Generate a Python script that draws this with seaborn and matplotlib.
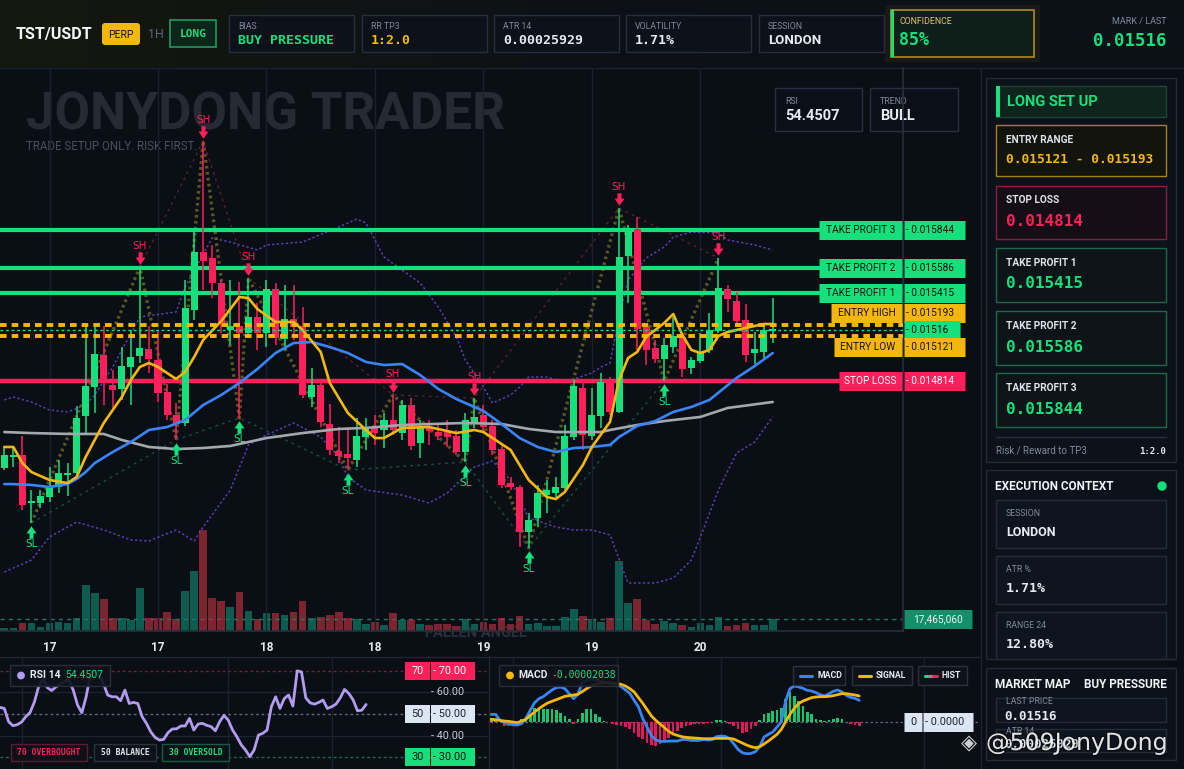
import numpy as np
import matplotlib
matplotlib.use("Agg")
import matplotlib.pyplot as plt
import matplotlib.patheffects as pe
from matplotlib.patches import Rectangle, Circle, FancyBboxPatch
from matplotlib.colors import LinearSegmentedColormap
from matplotlib.transforms import blended_transform_factory, offset_copy
import seaborn as sns

# ---------------- data (prices in millionths of USDT) ----------------
PRICE_UNIT = 1e-6
OPEN_U = [14221, 14296, 14309, 13982, 13982, 14023, 14091, 14173, 14186, 14575,
          14773, 14991, 14787, 14760, 14910, 14985, 15032, 14957, 14739, 14582,
          14528, 15298, 15694, 15653, 15483, 15162, 15189, 15142, 15251, 15142,
          15442, 15101, 15237, 15189, 14705, 14787, 14521, 14337, 14316, 14275,
          14432, 14500, 14480, 14548, 14459, 14650, 14391, 14500, 14466, 14466,
          14439, 14330, 14535, 14582, 14507, 14350, 14118, 14091, 13784, 13880,
          14036, 14050, 14084, 14432, 14766, 14439, 14575, 14807, 14603, 15667,
          15851, 15183, 15039, 14964, 15046, 15114, 14903, 14951, 15026, 15155,
          15442, 15360, 15230, 15005, 15012, 15155]
HIGH_U = [14364, 14357, 14439, 14071, 14071, 14227, 14275, 14254, 14644, 15210,
          15183, 15189, 14889, 15046, 15162, 15592, 15189, 15162, 14794, 14664,
          15503, 15830, 16451, 15742, 15503, 15503, 15490, 15517, 15346, 15503,
          15483, 15469, 15469, 15319, 14903, 14801, 14657, 14500, 14500, 14562,
          14562, 14582, 14596, 14719, 14685, 14698, 14548, 14548, 14514, 14548,
          14480, 14596, 14698, 14650, 14548, 14378, 14159, 14104, 13914, 14104,
          14139, 14159, 14514, 14821, 14807, 14766, 14869, 14841, 15994, 15878,
          15933, 15183, 15094, 15107, 15251, 15142, 14978, 15142, 15278, 15653,
          15469, 15421, 15339, 15148, 15210, 15380]
LOW_U = [14207, 14227, 13934, 13846, 13948, 13989, 14050, 14030, 14152, 14459,
         14596, 14650, 14630, 14685, 14650, 14937, 14869, 14671, 14548, 14412,
         14507, 15230, 15435, 15380, 15142, 15060, 14562, 15121, 15026, 15046,
         15060, 15026, 15094, 14698, 14637, 14500, 14309, 14254, 14207, 14227,
         14344, 14378, 14357, 14446, 14412, 14344, 14289, 14378, 14412, 14364,
         14309, 14261, 14494, 14466, 14309, 14084, 14071, 13682, 13675, 13818,
         13914, 14023, 14071, 14412, 14344, 14412, 14494, 14582, 14596, 15346,
         15026, 14923, 14937, 14814, 15005, 14841, 14862, 14937, 15005, 15142,
         15285, 15196, 14944, 14930, 14971, 15073]
CLOSE_U = [14309, 14302, 13968, 13996, 14030, 14091, 14186, 14186, 14562, 14780,
           14998, 14801, 14753, 14916, 14978, 15039, 14964, 14732, 14582, 14521,
           15312, 15694, 15633, 15483, 15210, 15189, 15142, 15251, 15142, 15442,
           15107, 15237, 15183, 14719, 14787, 14535, 14344, 14302, 14289, 14439,
           14500, 14459, 14548, 14480, 14650, 14371, 14500, 14473, 14439, 14432,
           14330, 14548, 14569, 14500, 14344, 14104, 14091, 13784, 13866, 14050,
           14071, 14091, 14439, 14780, 14446, 14582, 14807, 14603, 15660, 15844,
           15169, 15026, 14964, 15060, 15121, 14896, 14957, 15012, 15162, 15448,
           15374, 15223, 14991, 15032, 15162, 15160]
VOLUME_M = [4.8, 4.8, 11.6, 11.6, 5.8, 11.6, 13.5, 11.6, 19.4, 66.9,
            55.3, 46.6, 19.4, 19.4, 16.4, 62.6, 18.9, 18.9, 27.7, 17.5,
            58.2, 87.3, 147.0, 48.0, 43.7, 34.9, 56.8, 29.1, 17.5, 26.2,
            25.5, 23.3, 27.7, 43.7, 18.9, 20.4, 23.3, 27.7, 18.9, 17.5,
            10.2, 13.1, 8.7, 26.2, 15.6, 16.0, 9.8, 8.3, 9.8, 9.8,
            6.8, 17.0, 9.8, 13.5, 9.8, 18.5, 9.8, 21.8, 10.6, 11.6,
            6.8, 6.8, 20.4, 32.0, 21.8, 17.5, 13.5, 18.9, 101.9, 40.8,
            46.6, 16.0, 10.2, 14.6, 11.6, 8.7, 5.8, 11.6, 8.7, 20.4,
            7.3, 8.7, 11.6, 8.7, 8.7, 17.46506]

EMA_FAST_X = [0, 1, 2, 3, 5, 7, 8, 9, 11, 13, 14, 15, 16, 17, 19, 20, 21, 22, 24, 25,
              26, 27, 28, 30, 32, 33, 35, 36, 38, 40, 41, 42, 44, 47, 50, 52, 53, 56, 58, 60,
              61, 62, 64, 65, 67, 68, 69, 70, 71, 73, 74, 75, 76, 77, 78, 79, 80, 82, 84, 85]
EMA_FAST_U = [14364, 14364, 14254, 14193, 14139, 14118, 14159, 14296, 14528, 14705,
              14821, 14910, 14937, 14910, 14828, 14876, 14978, 15094, 15223, 15305,
              15387, 15380, 15305, 15217, 15217, 15162, 15012, 14801, 14596, 14480,
              14425, 14425, 14494, 14500, 14459, 14480, 14466, 14344, 14139, 14023,
              14009, 14057, 14241, 14364, 14535, 14821, 14971, 15012, 15114, 15210,
              15271, 15128, 15026, 15005, 15026, 15121, 15148, 15176, 15203, 15203]
EMA_SLOW_X = [0, 1, 3, 5, 7, 8, 9, 10, 12, 14, 16, 18, 20, 22, 24, 26, 28, 30, 32, 34,
              36, 38, 40, 42, 44, 46, 48, 50, 53, 55, 57, 59, 61, 63, 65, 67, 68, 70, 72, 74,
              76, 78, 81, 83, 85]
EMA_SLOW_U = [14111, 14111, 14105, 14091, 14111, 14146, 14193, 14254, 14330, 14398,
              14480, 14500, 14548, 14650, 14719, 14801, 14896, 15005, 15073, 15080,
              15046, 15005, 14944, 14923, 14930, 14855, 14760, 14691, 14610, 14521,
              14425, 14364, 14330, 14357, 14364, 14378, 14432, 14507, 14541, 14603,
              14637, 14685, 14835, 14916, 15005]
SMA_X = [0, 3, 7, 11, 13, 16, 19, 22, 25, 29, 33, 37, 40, 44, 51, 55, 58, 61, 66, 67,
         70, 73, 77, 80, 85]
SMA_U = [14466, 14459, 14453, 14453, 14412, 14364, 14350, 14357, 14371, 14425,
         14459, 14487, 14494, 14514, 14528, 14521, 14487, 14466, 14466, 14480,
         14514, 14541, 14569, 14630, 14671]
BB_UP_X = [0, 1, 3, 5, 7, 9, 10, 12, 13, 15, 19, 20, 23, 25, 28, 29, 33, 37, 39, 40,
           42, 44, 46, 48, 50, 51, 53, 54, 56, 57, 58, 60, 62, 65, 66, 67, 68, 69, 71, 73,
           74, 76, 79, 80, 83, 85]
BB_UP_U = [14685, 14705, 14671, 14616, 14603, 14650, 14719, 14910, 15026, 15251,
           15285, 15455, 15790, 15762, 15708, 15742, 15762, 15865, 15919, 15892,
           15660, 15571, 15483, 15319, 15114, 14957, 14773, 14664, 14719, 14773,
           14841, 14841, 14807, 14869, 14910, 14937, 15251, 15503, 15653, 15728,
           15796, 15830, 15824, 15776, 15742, 15708]
BB_LOW_X = [0, 3, 5, 8, 11, 14, 16, 19, 21, 22, 25, 27, 29, 32, 35, 37, 38, 40, 44, 47,
            49, 52, 54, 56, 58, 61, 63, 65, 67, 69, 72, 74, 76, 77, 79, 81, 83, 85]
BB_LOW_U = [13511, 13593, 13750, 13852, 13798, 13730, 13723, 13798, 13723, 13818,
            14071, 14378, 14446, 14528, 14432, 14296, 14159, 14071, 14036, 13982,
            14050, 14227, 14268, 14139, 13880, 13818, 13798, 13798, 13764, 13436,
            13436, 13470, 13593, 13750, 14071, 14323, 14398, 14569]

SWING_HIGH_IDX = [15, 22, 27, 43, 52, 68, 79]
SWING_LOW_IDX = [3, 19, 26, 38, 51, 58, 73]

RSI = [53.1, 52.6, 46.5, 44.6, 45.1, 46.3, 48.8, 50.8, 55.7, 62.9,
       66.3, 62.2, 60.9, 62.6, 63.8, 65.1, 65.8, 61.1, 54.2, 50.6,
       58.0, 68.5, 70.3, 67.7, 64.2, 58.8, 58.0, 58.0, 56.2, 61.1,
       54.9, 55.4, 54.9, 48.8, 45.7, 41.8, 39.2, 38.0, 38.3, 41.4,
       43.1, 43.2, 44.5, 44.5, 48.0, 42.6, 45.4, 45.7, 44.8, 44.2,
       42.3, 46.5, 49.4, 47.2, 42.6, 39.5, 35.8, 33.4, 30.3, 33.4,
       40.3, 41.1, 42.6, 53.4, 58.0, 52.6, 57.2, 58.8, 53.7, 70.0,
       69.5, 57.5, 55.2, 54.6, 55.4, 56.5, 52.6, 53.4, 54.6, 57.5,
       61.4, 59.5, 56.5, 51.5, 51.8, 54.4507]
MACD_E6 = [36.1, 36.1, 7.9, -3.1, -7.9, -12.6, -14.1, -7.9, 17.3, 55.0,
           91.1, 109.9, 119.3, 135.0, 150.7, 161.7, 164.9, 157.0, 133.5, 109.9,
           130.3, 185.3, 197.8, 201.0, 199.4, 194.7, 186.8, 183.7, 182.1, 177.4,
           166.4, 150.7, 135.0, 102.1, 70.7, 15.7, -23.6, -65.9, -83.2, -91.1,
           -91.1, -89.5, -89.5, -89.5, -83.2, -81.6, -86.4, -86.4, -86.4, -81.6,
           -84.8, -83.2, -69.1, -65.9, -67.5, -76.9, -102.1, -128.7, -144.4, -149.2,
           -147.6, -139.7, -116.2, -70.7, -58.1, -47.1, -23.6, 1.6, 98.9, 157.0,
           169.6, 164.9, 158.6, 149.2, 146.0, 138.2, 128.7, 122.5, 133.5, 144.4,
           150.7, 141.3, 125.6, 116.2, 111.5, 102.1]
SIGNAL_E6 = [12.6, 11.0, 7.9, 4.7, 3.1, 0.0, -3.1, 4.7, 12.6, 31.4,
             47.1, 62.8, 76.9, 89.5, 97.3, 105.2, 113.0, 120.9, 124.0, 127.2,
             130.3, 142.9, 157.0, 169.6, 177.4, 182.1, 185.3, 185.3, 183.7, 180.6,
             177.4, 169.6, 157.0, 141.3, 114.6, 87.9, 58.1, 28.3, 7.9, -9.4,
             -26.7, -44.0, -56.5, -62.8, -69.1, -72.2, -73.8, -75.4, -76.9, -78.5,
             -78.5, -78.5, -76.9, -76.9, -76.9, -76.9, -80.1, -89.5, -98.9, -108.3,
             -116.2, -120.9, -116.2, -103.6, -89.5, -73.8, -58.1, -34.5, 1.6, 36.1,
             64.4, 86.4, 98.9, 106.8, 114.6, 117.8, 119.3, 119.3, 120.9, 124.0,
             128.7, 133.5, 133.5, 130.3, 127.2, 122.5]
HIST_E6 = [20.4, 12.6, 3.1, -18.8, -18.8, -18.8, -11.0, 12.6, 28.3, 39.3,
           64.4, 64.4, 59.7, 59.7, 59.7, 55.0, 44.0, 28.3, 12.6, -11.0,
           12.6, 44.0, 59.7, 59.7, 39.3, 23.6, 4.7, 1.6, -11.0, -14.1,
           -18.8, -23.6, -34.5, -50.2, -70.7, -81.6, -97.3, -108.3, -113.0, -105.2,
           -92.6, -73.8, -58.1, -42.4, -29.8, -18.8, -14.1, -11.0, -7.9, -7.9,
           -4.7, 1.6, 7.9, 11.0, 4.7, -7.9, -18.8, -34.5, -50.2, -45.5,
           -34.5, -18.8, 7.9, 39.3, 44.0, 51.8, 55.0, 67.5, 106.8, 142.9,
           122.5, 98.9, 75.4, 48.7, 36.1, 12.6, 7.9, 4.7, 7.9, 12.6,
           20.4, 15.7, 0.0, -7.9, -14.1, -20.38]

TIME_TICKS = [5, 17, 29, 41, 53, 65, 77]
TIME_LABELS = ["17", "17", "18", "18", "19", "19", "20"]

TP3, TP2, TP1 = 0.015844, 0.015586, 0.015415
ENTRY_HIGH, ENTRY_LOW = 0.015193, 0.015121
STOP = 0.014814
LAST = 0.01516
ATR14 = 0.00025929
TOP_CARDS = [("BIAS", "BUY PRESSURE"), ("RR TP3", "1:2.0"), ("ATR 14", "0.00025929"),
             ("VOLATILITY", "1.71%"), ("SESSION", "LONDON")]
CONTEXT_CARDS = [("SESSION", "LONDON"), ("ATR %", "1.71%"), ("RANGE 24", "12.80%")]

# ---------------- derived arrays ----------------
O = np.array(OPEN_U) * PRICE_UNIT
Hh = np.array(HIGH_U) * PRICE_UNIT
L = np.array(LOW_U) * PRICE_UNIT
C = np.array(CLOSE_U) * PRICE_UNIT
VOL = np.array(VOLUME_M) * 1e6
MACD = np.array(MACD_E6) * 1e-6
SIGNAL = np.array(SIGNAL_E6) * 1e-6
HIST = np.array(HIST_E6) * 1e-6
idx = np.arange(len(C))

# ---------------- style ----------------
sns.set_theme(style="dark")
SANS = ["Roboto", "DejaVu Sans"]
MONO = ["DejaVu Sans Mono", "DejaVu Sans"]
plt.rcParams["font.family"] = SANS
plt.rcParams["axes.unicode_minus"] = False

BG = "#0a0e15"
PANEL = "#0d121a"
BORDER = "#232c39"
GRID = "#1a212c"
GREEN = "#16e07c"
RED = "#ff1f5a"
YEL = "#f4b70d"
BLUEC = "#3a85f5"
TXT = "#e6ebf2"
MUTED = "#7f8a9c"
DARK = "#0c1510"

W, H = 1184, 769
fig = plt.figure(figsize=(W / 100, H / 100), dpi=100, facecolor=BG)


def rect(x0, y0, x1, y1):
    return [x0 / W, 1 - y1 / H, (x1 - x0) / W, (y1 - y0) / H]


ui = fig.add_axes([0, 0, 1, 1], zorder=0)
ov = fig.add_axes([0, 0, 1, 1], zorder=6)


def box(a, x0, y0, x1, y1, fc, ec="none", lw=1.0, z=1, alpha=1.0):
    a.add_patch(Rectangle((x0, y0), x1 - x0, y1 - y0, facecolor=fc, edgecolor=ec,
                          lw=lw, zorder=z, alpha=alpha))


def txt(a, x, y, s, size, color, weight="normal", ha="left", family=SANS, z=5, alpha=1.0):
    return a.text(x, y, s, fontsize=size, color=color, fontweight=weight, ha=ha,
                  va="center", family=family, zorder=z, alpha=alpha)


# ---------------- background & top bar ----------------
box(ui, 0, 0, W, H, BG, z=0)
box(ui, 0, 0, W, 67, "#0c1017", z=0.2)
cm = LinearSegmentedColormap.from_list("tb", ["#0c1017", "#14180f"])
ui.imshow(np.linspace(1, 0, 256).reshape(1, -1), extent=(0, 700, 67, 0), cmap=cm,
          aspect="auto", zorder=0.3, interpolation="bilinear")
ui.plot([0, W], [67.5, 67.5], color="#1d2531", lw=1, zorder=1)

txt(ui, 16, 34, "TST/USDT", 11.5, "#f4f6fa", "bold")
ui.add_patch(FancyBboxPatch((102, 23), 38, 22, boxstyle="round,pad=0,rounding_size=3",
                            fc="#f0b90b", ec="none", zorder=2))
txt(ui, 121, 34.5, "PERP", 7.5, "#17140a", ha="center")
txt(ui, 148, 34, "1H", 9, "#5d6778")
box(ui, 170, 20, 216, 47, "#0c2419", "#1c9c5e", lw=1.2, z=2)
txt(ui, 193, 34, "LONG", 8, GREEN, "bold", ha="center", family=MONO)

card_x = [(229, 354), (362, 487), (494, 619), (626, 751), (759, 884)]
card_col = [GREEN, YEL, TXT, TXT, TXT]
for (x0, x1), (lab, val), col in zip(card_x, TOP_CARDS, card_col):
    box(ui, x0, 15, x1, 52, "#0c111a", "#262f3d", z=2)
    txt(ui, x0 + 9, 26.5, lab, 6.3, MUTED)
    if val == "LONDON":
        txt(ui, x0 + 9, 40.5, val, 9.5, col, "bold")
    else:
        txt(ui, x0 + 9, 40.5, val, 9.5, col, "bold", family=MONO)

box(ui, 885, 5, 1040, 62, "#c79a1a", z=1.5, alpha=0.07)
box(ui, 891, 10, 1034, 57, "#0d1f18", "#b08a1c", lw=1.2, z=2)
box(ui, 891, 10, 894, 57, GREEN, z=3)
txt(ui, 900, 22, "CONFIDENCE", 6.3, "#e9c46a")
txt(ui, 899, 40, "85%", 12, GREEN, "bold", family=MONO)
txt(ui, 1167, 22, "MARK / LAST", 6.5, MUTED, ha="right")
txt(ui, 1167, 41, f"{LAST:.5f}", 12.5, GREEN, "bold", ha="right", family=MONO)

# ---------------- chart watermark & mini cards ----------------
txt(ui, 26, 115, "JONYDONG TRADER", 37, "#262b33", "bold", z=1)
txt(ui, 26, 147, "TRADE SETUP ONLY. RISK FIRST.", 8.3, "#4a515d", z=1)
txt(ui, 425, 633, "FALLEN ANGEL", 10.5, "#2a2f37", "bold", z=1)
for x0, x1, lab, val in [(775, 862, "RSI", f"{RSI[-1]:.4f}"), (870, 958, "TREND", "BULL")]:
    box(ui, x0, 88, x1, 131, "#0b1018", "#263040", z=2)
    txt(ui, x0 + 10, 101, lab, 6.3, MUTED)
    txt(ui, x0 + 10, 116, val, 10.5, TXT, "bold")

# separators
ui.plot([980.5, 980.5], [68, H], color="#1c2430", lw=1, zorder=1)
ui.plot([0, 980], [656.5, 656.5], color="#1f2733", lw=1, zorder=1)
ui.plot([489, 489], [656, H], color="#1f2733", lw=1, zorder=1)

# ---------------- side panel ----------------
box(ui, 986, 78, 1176, 462, PANEL, "#222b37", z=1)
box(ui, 996, 86, 1166, 117, "#0f241d", "#1b4536", z=2)
box(ui, 996, 86, 999.5, 117, GREEN, z=3)
txt(ui, 1007, 101.5, "LONG SET UP", 10.5, GREEN, "bold")
box(ui, 996, 125, 1166, 176, "#14140e", "#a3841a", z=2)
txt(ui, 1006, 140, "ENTRY RANGE", 7.3, "#dfe4ec", "bold")
txt(ui, 1006, 159.5, f"{ENTRY_LOW:.6f} - {ENTRY_HIGH:.6f}", 9.3, YEL, "bold", family=MONO)
box(ui, 996, 186, 1166, 239, "#150e16", "#8c1d40", z=2)
txt(ui, 1006, 200, "STOP LOSS", 7.3, "#dfe4ec", "bold")
txt(ui, 1006, 221, f"{STOP:.6f}", 11.5, RED, "bold", family=MONO)
for y0, lab, val in [(248, "TAKE PROFIT 1", TP1), (311, "TAKE PROFIT 2", TP2), (373, "TAKE PROFIT 3", TP3)]:
    box(ui, 996, y0, 1166, y0 + 54, "#0d1519", "#1c6a48", z=2)
    txt(ui, 1006, y0 + 15, lab, 7.3, "#dfe4ec", "bold")
    txt(ui, 1006, y0 + 36, f"{val:.6f}", 11.5, GREEN, "bold", family=MONO)
ui.plot([996, 1166], [436.5, 436.5], color="#263040", lw=1, zorder=2)
txt(ui, 996, 451, "Risk / Reward to TP3", 7, MUTED)
txt(ui, 1166, 451, "1:2.0", 6.5, TXT, "bold", ha="right", family=MONO)

box(ui, 986, 470, 1176, 659, PANEL, "#222b37", z=1)
txt(ui, 995, 486, "EXECUTION CONTEXT", 8.5, "#f0f3f8", "bold")
ui.add_patch(Circle((1162, 486), 4, color=GREEN, zorder=3))
for k, (lab, val) in enumerate(CONTEXT_CARDS):
    y0 = 500 + 56 * k
    y1 = min(y0 + 48, 659)
    box(ui, 996, y0, 1166, y1, "#0f151e", "#232c39", z=2)
    txt(ui, 1006, y0 + 14, lab, 6.3, MUTED)
    if val == "LONDON":
        txt(ui, 1006, y0 + 32, val, 9, TXT, "bold")
    else:
        txt(ui, 1006, y0 + 32, val, 9.5, TXT, "bold", family=MONO)

box(ui, 986, 668, 1176, 760, PANEL, "#222b37", z=1)
txt(ui, 995, 684, "MARKET MAP", 8.5, "#f0f3f8", "bold")
txt(ui, 1167, 684, "BUY PRESSURE", 8.5, "#f0f3f8", "bold", ha="right")
box(ui, 996, 698, 1166, 722, "#0f151e", "#232c39", z=2)
txt(ui, 1006, 701, "LAST PRICE", 6.3, MUTED, z=6)
txt(ui, 1004, 716, f"{LAST:.5f}", 9, TXT, "bold", family=MONO)
box(ui, 996, 729, 1166, 752, "#0f151e", "#232c39", z=2)
txt(ui, 1006, 731, "ATR 14", 6.3, MUTED, z=6)
txt(ui, 1004, 745, f"{ATR14:.8f}", 9, TXT, "bold", family=MONO)


# ---------------- helper for price tags ----------------
def tag(axis, yval, px0, px1, ax_px0, ax_w, s, fc, tc, dy=0, h=19, size=7.3, ha="center",
        weight="normal", family=SANS):
    base = blended_transform_factory(axis.transAxes, axis.transData)
    tr = offset_copy(base, fig=fig, x=0, y=dy, units="dots")
    f0, f1 = (px0 - ax_px0) / ax_w, (px1 - ax_px0) / ax_w
    axis.plot([f0, f1], [yval, yval], transform=tr, color=fc, lw=h * 0.72,
              solid_capstyle="butt", clip_on=False, zorder=20)
    xt = {"center": (f0 + f1) / 2, "left": f0 + 2 / ax_w, "right": f1 - 5 / ax_w}[ha]
    axis.text(xt, yval, s, transform=tr, ha=ha, va="center", color=tc, fontsize=size,
              fontweight=weight, family=family, clip_on=False, zorder=21)


def clean(a):
    a.set_facecolor("none")
    a.grid(False)
    a.set_xticks([])
    a.set_yticks([])
    for s in a.spines.values():
        s.set_visible(False)


# ---------------- main price chart ----------------
MAIN = (0, 68, 903, 631)
XLIM = (-0.476, 99.41)
YLIM = (0.0131088, 0.0169492)
ax_v = fig.add_axes(rect(*MAIN), zorder=1)
ax = fig.add_axes(rect(*MAIN), zorder=2)
clean(ax_v)
clean(ax)

up = C >= O
vcol = np.where(up, "#0e5c50", "#7d2431")
ax_v.bar(idx, VOL, width=0.85, color=vcol, linewidth=0, zorder=2)
ax_v.axhline(VOL[-1], color="#1f7a63", lw=1, ls=(0, (3, 3)), zorder=3)
ax_v.set_xlim(*XLIM)
ax_v.set_ylim(0, VOL.max() * 5.57)
tag(ax_v, VOL[-1], 904, 972, 0, 903, f"{int(round(VOL[-1])):,}", "#13906a", "#eaf6f0")

for t in TIME_TICKS:
    ax.axvline(t, color=GRID, lw=1, zorder=0)

# bands & zigzags
sns.lineplot(x=BB_UP_X, y=np.array(BB_UP_U) * PRICE_UNIT, ax=ax, color="#5a3fae",
             linewidth=1.1, linestyle=(0, (1.5, 1.5)), zorder=2, legend=False)
sns.lineplot(x=BB_LOW_X, y=np.array(BB_LOW_U) * PRICE_UNIT, ax=ax, color="#5a3fae",
             linewidth=1.1, linestyle=(0, (1.5, 1.5)), zorder=2, legend=False)
piv = sorted([(i, Hh[i]) for i in SWING_HIGH_IDX] + [(i, L[i]) for i in SWING_LOW_IDX])
ax.plot([p[0] for p in piv], [p[1] for p in piv], color="#6a6424", lw=2.4,
        ls=(0, (0.8, 1.0)), zorder=2, alpha=0.85)
ax.plot(SWING_HIGH_IDX, Hh[SWING_HIGH_IDX], color="#5f1d33", lw=1.0, ls=(0, (2, 3)), zorder=2)
ax.plot(SWING_LOW_IDX, L[SWING_LOW_IDX], color="#17503d", lw=1.0, ls=(0, (2, 3)), zorder=2)

# levels
for lv in (TP3, TP2, TP1):
    ax.axhline(lv, color=GREEN, lw=3, zorder=2.5)
ax.axhline(STOP, color=RED, lw=3.2, zorder=2.5)

# candles
ccol = np.where(up, GREEN, RED)
ax.vlines(idx, L, Hh, colors=ccol, lw=1.1, zorder=3)
body = np.maximum(np.abs(C - O), 1.3e-5)
ax.bar(idx, body, bottom=np.minimum(O, C), width=0.78, color=ccol, linewidth=0, zorder=3.1)

# moving averages
sns.lineplot(x=SMA_X, y=np.array(SMA_U) * PRICE_UNIT, ax=ax, color="#a3a7ae", linewidth=1.9,
             zorder=4, legend=False)
sns.lineplot(x=EMA_SLOW_X, y=np.array(EMA_SLOW_U) * PRICE_UNIT, ax=ax, color=BLUEC, linewidth=1.9,
             zorder=4, legend=False)
sns.lineplot(x=EMA_FAST_X, y=np.array(EMA_FAST_U) * PRICE_UNIT, ax=ax, color=YEL, linewidth=1.9,
             zorder=4.1, legend=False)

# entry zone & last price
for lv in (ENTRY_HIGH, ENTRY_LOW):
    ax.axhline(lv, color=YEL, lw=2.8, ls=(0, (1.7, 1.3)), zorder=5)
ax.axhline(LAST, color=GREEN, lw=1, ls=(0, (2, 2)), zorder=5)

# swing markers
DOWN_ARROW = [(-0.32, 1.0), (0.32, 1.0), (0.32, 0.15), (0.8, 0.15), (0.0, -1.0),
              (-0.8, 0.15), (-0.32, 0.15), (-0.32, 1.0)]
UP_ARROW = [(x, -y) for x, y in DOWN_ARROW]
ax.plot(SWING_HIGH_IDX, Hh[SWING_HIGH_IDX], ls="none", marker=DOWN_ARROW, ms=9, color=RED,
        mew=0, transform=offset_copy(ax.transData, fig=fig, y=9, units="dots"), zorder=6)
ax.plot(SWING_LOW_IDX, L[SWING_LOW_IDX], ls="none", marker=UP_ARROW, ms=9, color=GREEN,
        mew=0, transform=offset_copy(ax.transData, fig=fig, y=-9, units="dots"), zorder=6)
for i in SWING_HIGH_IDX:
    ax.text(i, Hh[i], "SH", transform=offset_copy(ax.transData, fig=fig, y=21, units="dots"),
            ha="center", va="center", fontsize=7.5, color=RED, family="DejaVu Sans", zorder=6)
for i in SWING_LOW_IDX:
    ax.text(i, L[i], "SL", transform=offset_copy(ax.transData, fig=fig, y=-21, units="dots"),
            ha="center", va="center", fontsize=7.5, color=GREEN, family="DejaVu Sans", zorder=6)

# price tags
for lv, name in [(TP3, "TAKE PROFIT 3"), (TP2, "TAKE PROFIT 2"), (TP1, "TAKE PROFIT 1")]:
    tag(ax, lv, 819, 902, 0, 903, name, GREEN, DARK)
    tag(ax, lv, 904, 965, 0, 903, f"- {lv:.6f}", GREEN, DARK, ha="left")
tag(ax, ENTRY_HIGH, 831, 902, 0, 903, "ENTRY HIGH", YEL, "#1b1503", dy=12)
tag(ax, ENTRY_HIGH, 904, 965, 0, 903, f"- {ENTRY_HIGH:.6f}", YEL, "#1b1503", dy=12, ha="left")
tag(ax, LAST, 904, 960, 0, 903, f"- {LAST:.5f}", GREEN, DARK, ha="left")
tag(ax, ENTRY_LOW, 834, 902, 0, 903, "ENTRY LOW", YEL, "#1b1503", dy=-11)
tag(ax, ENTRY_LOW, 904, 965, 0, 903, f"- {ENTRY_LOW:.6f}", YEL, "#1b1503", dy=-11, ha="left")
tag(ax, STOP, 839, 902, 0, 903, "STOP LOSS", RED, "white")
tag(ax, STOP, 904, 965, 0, 903, f"- {STOP:.6f}", RED, "white", ha="left")

ax.set_xticks(TIME_TICKS)
ax.set_xticklabels(TIME_LABELS)
ax.tick_params(axis="x", length=0, pad=7, labelsize=8.5, labelcolor=TXT)
for lab in ax.get_xticklabels():
    lab.set_fontweight("bold")
for s in ("right", "bottom"):
    ax.spines[s].set_visible(True)
    ax.spines[s].set_color("#252e3b")
ax.set_xlim(*XLIM)
ax.set_ylim(*YLIM)

# ---------------- RSI panel ----------------
ax_r = fig.add_axes(rect(0, 657, 488, 769), zorder=2)
clean(ax_r)
for g in (5, 53, 77):
    ax_r.axvline(g, color=GRID, lw=1, zorder=0)
for lv in (60, 40):
    ax_r.axhline(lv, color="#1c2430", lw=1, zorder=0)
ax_r.axhline(70, color="#7d1c3a", lw=1, ls=(0, (2, 2)), zorder=1)
ax_r.axhline(50, color="#5f6878", lw=1, ls=(0, (2, 2)), zorder=1)
ax_r.axhline(30, color="#1e6d4b", lw=1, ls=(0, (2, 2)), zorder=1)
sns.lineplot(x=idx, y=RSI, ax=ax_r, color="#b39cf0", linewidth=2.0, zorder=3, legend=False)
ax_r.set_xlim(0, 113.3)
ax_r.set_ylim(24.6, 76.4)
tag(ax_r, 70, 405, 430, 0, 488, "70", RED, "white", h=18, size=7.8)
tag(ax_r, 70, 431, 475, 0, 488, "- 70.00", RED, "white", h=18, size=7.8, ha="left")
tag(ax_r, 50, 405, 430, 0, 488, "50", "#dce6f3", "#1b2230", h=18, size=7.8)
tag(ax_r, 50, 431, 475, 0, 488, "- 50.00", "#dce6f3", "#1b2230", h=18, size=7.8, ha="left")
tag(ax_r, 30, 405, 430, 0, 488, "30", GREEN, DARK, h=18, size=7.8)
tag(ax_r, 30, 431, 475, 0, 488, "- 30.00", GREEN, DARK, h=18, size=7.8, ha="left")
for lv in (60, 40):
    ax_r.text(431 / 488, lv, f"- {lv:.2f}", transform=blended_transform_factory(ax_r.transAxes, ax_r.transData),
              ha="left", va="center", fontsize=7.8, color="#c7cdd6", zorder=5)

# ---------------- MACD panel ----------------
ax_m = fig.add_axes(rect(490, 657, 980, 769), zorder=2)
clean(ax_m)
for g in (5, 29, 53, 100):
    ax_m.axvline(g, color=GRID, lw=1, zorder=0)
ax_m.axhline(0, color="#5f6878", lw=0.9, ls=(0, (2, 2)), zorder=1)
ax_m.bar(idx, HIST, width=0.62, color=np.where(HIST >= 0, "#17c46f", "#e3175a"), linewidth=0, zorder=2)
sns.lineplot(x=idx, y=MACD, ax=ax_m, color=BLUEC, linewidth=2.0, zorder=3, legend=False)
sns.lineplot(x=idx, y=SIGNAL, ax=ax_m, color=YEL, linewidth=2.0, zorder=3.1, legend=False)
ax_m.set_xlim(-0.3, 112.9)
ax_m.set_ylim(-2.21e-4, 3.06e-4)
tag(ax_m, 0, 904, 922, 490, 490, "0", "#dce6f3", "#1b2230", h=19, size=7.8)
tag(ax_m, 0, 923, 973, 490, 490, "- 0.0000", "#dce6f3", "#1b2230", h=19, size=7.8, ha="left")

# ---------------- overlay legends ----------------
box(ov, 10, 665, 110, 686, "#0e131b", "#2a3240", z=2, alpha=0.92)
ov.add_patch(Circle((21, 675.5), 3.2, color="#b39cf0", zorder=3))
txt(ov, 30, 675.5, "RSI 14", 7.5, TXT, "bold")
txt(ov, 65, 675.5, f"{RSI[-1]:.4f}", 7.5, GREEN)
for x0, x1, s, ec, tc in [(11, 87, "70 OVERBOUGHT", "#5e1a30", RED), (94, 156, "50 BALANCE", "#2a3240", TXT),
                          (162, 229, "30 OVERSOLD", "#1a5a40", GREEN)]:
    box(ov, x0, 744, x1, 761, "#0d121a", ec, z=2)
    txt(ov, (x0 + x1) / 2, 752.5, s, 5.8, tc, "bold", ha="center", family=MONO)

box(ov, 499, 665, 618, 686, "#0e131b", "#2a3240", z=2, alpha=0.9)
ov.add_patch(Circle((510, 675.5), 3.2, color=YEL, zorder=3))
txt(ov, 518, 675.5, "MACD", 7.5, TXT, "bold")
txt(ov, 551, 675.5, f"{HIST[-1]:.8f}", 7, GREEN, family=MONO)
for x0, x1, s, cols in [(793, 845, "MACD", [BLUEC]), (852, 912, "SIGNAL", [YEL]),
                        (918, 967, "HIST", [GREEN, "#8a8f98", RED])]:
    box(ov, x0, 666, x1, 685, "#0e131b", "#2a3240", z=2)
    seg = 12 / len(cols)
    for k, cc in enumerate(cols):
        ov.plot([x0 + 7 + k * seg, x0 + 7 + (k + 1) * seg], [675.5, 675.5], color=cc, lw=2.2,
                solid_capstyle="round", zorder=3)
    txt(ov, x0 + 24, 675.5, s, 6.3, TXT, "bold")

wm = txt(ov, 986, 743, "@509JonyDong", 17, "white", family="DejaVu Sans", z=8, alpha=0.85)
wm.set_path_effects([pe.withStroke(linewidth=2, foreground="#000000", alpha=0.35)])
txt(ov, 969, 743, "◈", 15, "white", ha="center", family="DejaVu Sans", z=8, alpha=0.8)

for a in (ui, ov):
    a.set_xlim(0, W)
    a.set_ylim(H, 0)
    a.axis("off")

fig.savefig("out.png", dpi=100, facecolor=BG)
